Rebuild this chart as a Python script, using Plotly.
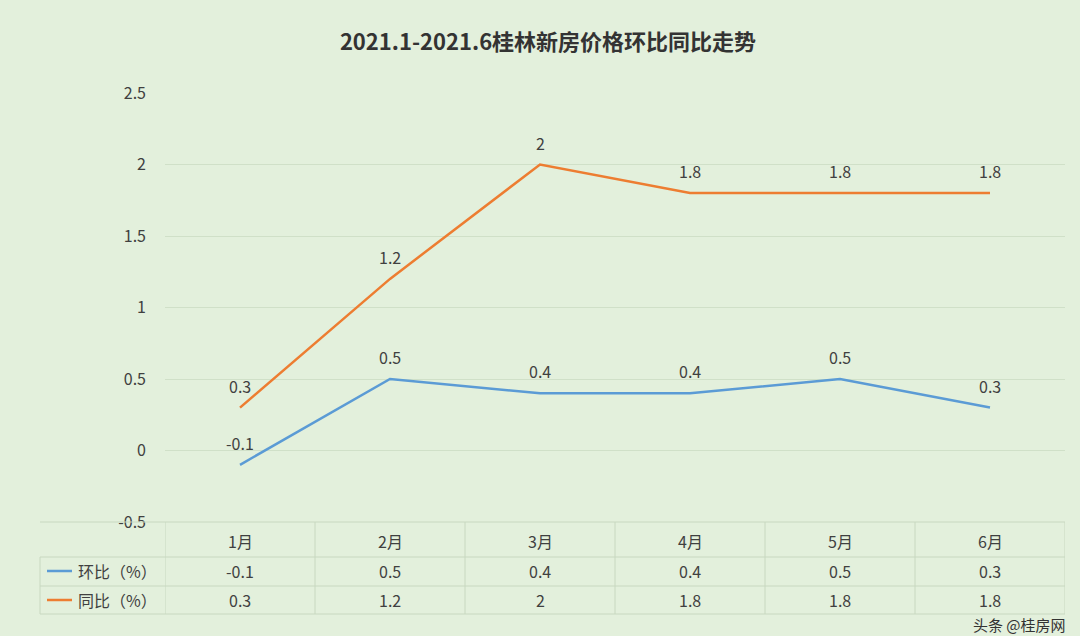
import plotly.graph_objects as go

months = ["1月", "2月", "3月", "4月", "5月", "6月"]
huanbi = [-0.1, 0.5, 0.4, 0.4, 0.5, 0.3]
tongbi = [0.3, 1.2, 2, 1.8, 1.8, 1.8]
yticks = [-0.5, 0, 0.5, 1, 1.5, 2, 2.5]

W, H = 1080, 636
OFF = 8  # page body margin
L, R, T, B = 165 - OFF, 15 + OFF, 93 - OFF, 114 + OFF
ph = H - T - B
def py(p):  # target pixel y -> paper
    return (522 - p) / ph
def px(p):
    return (p - 165) / (W - L - R)

bg = "#e3f0dc"
blue, orange = "#5b9bd5", "#ed7d31"
font = dict(family="Noto Sans CJK SC", size=16, color="#404040")
x = list(range(len(months)))
fig = go.Figure()
fig.add_trace(go.Scatter(x=x, y=huanbi, mode="lines", line=dict(color=blue, width=2.5)))
fig.add_trace(go.Scatter(x=x, y=tongbi, mode="lines", line=dict(color=orange, width=2.5)))

shapes, ann = [], []
for i in x:
    for v in (huanbi[i], tongbi[i]):
        ann.append(dict(x=i, y=v, xref="x", yref="y", text=str(v), showarrow=False, font=font,
                        xanchor="center", yanchor="bottom", yshift=8))
gc = "#c8d8c0"
for p in [522, 557, 586, 614]:
    shapes.append(dict(type="line", xref="paper", yref="paper", x0=px(40), x1=1, y0=py(p), y1=py(p), line=dict(color=gc, width=1)))
for i in range(len(months) + 1):
    shapes.append(dict(type="line", xref="x", yref="paper", x0=i - 0.5, x1=i - 0.5, y0=py(522), y1=py(614), line=dict(color=gc, width=1)))
shapes.append(dict(type="line", xref="paper", yref="paper", x0=px(40), x1=px(40), y0=py(557), y1=py(614), line=dict(color=gc, width=1)))
for i, m in enumerate(months):
    for p, t in [(541, m), (571, str(huanbi[i])), (600, str(tongbi[i]))]:
        ann.append(dict(x=i, y=py(p), xref="x", yref="paper", text=t, showarrow=False, font=font,
                        xanchor="center", yanchor="middle"))
for p, c, name in [(571, blue, "环比（%）"), (600, orange, "同比（%）")]:
    shapes.append(dict(type="line", xref="paper", yref="paper", x0=px(47), x1=px(72), y0=py(p), y1=py(p), line=dict(color=c, width=2.5)))
    ann.append(dict(x=px(76), y=py(p), xref="paper", yref="paper", xanchor="left", yanchor="middle",
                    text=name, showarrow=False, font=font))
ann.append(dict(x=px(1068), y=py(624), xref="paper", yref="paper", xanchor="right", yanchor="middle",
                text="头条 @桂房网", showarrow=False, font=dict(family="Noto Sans CJK SC", size=15, color="#333")))

fig.update_layout(
    width=W, height=H, margin=dict(l=L, r=R, t=T, b=B),
    paper_bgcolor=bg, plot_bgcolor=bg, showlegend=False,
    title=dict(text="<b>2021.1-2021.6桂林新房价格环比同比走势</b>", x=0.5, y=1 - 34 / H, yanchor="middle",
               font=dict(family="Noto Sans CJK SC", size=22, color="#333")),
    xaxis=dict(range=[-0.5, 5.5], showticklabels=False, showgrid=False, zeroline=False, fixedrange=True),
    yaxis=dict(range=[-0.5, 2.5], tickvals=yticks, ticktext=[str(v) for v in yticks], gridcolor="#d0e0c8",
               zeroline=False, tickfont=font, ticks="", ticklabelstandoff=18),
    shapes=shapes, annotations=ann,
)
fig.write_html("out.html", post_script="document.body.style.background='%s';" % bg)
